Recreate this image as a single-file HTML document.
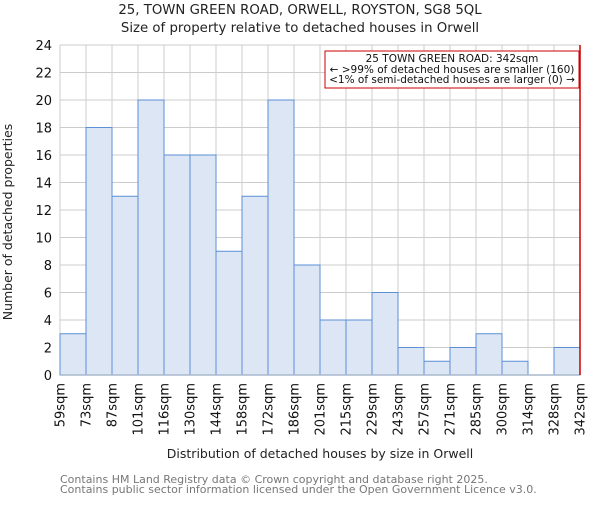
<!DOCTYPE html>
<html><head><meta charset="utf-8"><style>
body{margin:0;background:#fff;}
svg text{font-family:"DejaVu Sans","Liberation Sans",sans-serif;}
</style></head><body>
<svg width="600" height="500" viewBox="0 0 600 500" xmlns="http://www.w3.org/2000/svg">
<text x="300" y="14" text-anchor="middle" font-size="13.3" fill="#222">25, TOWN GREEN ROAD, ORWELL, ROYSTON, SG8 5QL</text>
<text x="300" y="32" text-anchor="middle" font-size="13.3" fill="#222">Size of property relative to detached houses in Orwell</text>
<g id="grid"></g>
<g id="bars"></g>
<g id="yticks"></g>
<g id="xticks"></g>
<line x1="580" y1="45" x2="580" y2="375" stroke="#c00" stroke-width="1.5"/>
<rect x="325" y="51" width="254" height="37" fill="#fff" stroke="#c00" stroke-width="1"/>
<text x="452" y="62" text-anchor="middle" font-size="10.5" fill="#111">25 TOWN GREEN ROAD: 342sqm</text>
<text x="452" y="73" text-anchor="middle" font-size="10.5" fill="#111">← &gt;99% of detached houses are smaller (160)</text>
<text x="452" y="83" text-anchor="middle" font-size="10.5" fill="#111">&lt;1% of semi-detached houses are larger (0) →</text>
<text x="12" y="222" text-anchor="middle" font-size="12.5" fill="#222" transform="rotate(-90 12 222)">Number of detached properties</text>
<text x="320" y="458" text-anchor="middle" font-size="12.5" fill="#222">Distribution of detached houses by size in Orwell</text>
<text x="60" y="483" font-size="11" fill="#777">Contains HM Land Registry data © Crown copyright and database right 2025.</text>
<text x="60" y="493" font-size="11" fill="#777">Contains public sector information licensed under the Open Government Licence v3.0.</text>
</svg>
<script>
const categories=["59sqm","73sqm","87sqm","101sqm","116sqm","130sqm","144sqm","158sqm","172sqm","186sqm","201sqm","215sqm","229sqm","243sqm","257sqm","271sqm","285sqm","300sqm","314sqm","328sqm","342sqm"];
const counts=[3,18,13,20,16,16,9,13,20,8,4,4,6,2,1,2,3,1,0,2];
const yTicks=[0,2,4,6,8,10,12,14,16,18,20,22,24];
const NS="http://www.w3.org/2000/svg";
const X0=60,X1=580,Y0=375,Y1=45,YMAX=24;
const nb=counts.length;
function xs(i){return X0+(X1-X0)*i/nb;}
function ys(v){return Y0-(Y0-Y1)*v/YMAX;}
function mk(t,a,p){const e=document.createElementNS(NS,t);for(const k in a)e.setAttribute(k,a[k]);p.appendChild(e);return e;}
const grid=document.getElementById('grid'),bars=document.getElementById('bars'),yt=document.getElementById('yticks'),xt=document.getElementById('xticks');
yTicks.forEach(v=>{
 const l=mk('line',{x1:X0,x2:X1,y1:ys(v),y2:ys(v),stroke:'#ccc','stroke-width':1},grid);
 
 
 const t=mk('text',{x:X0-8,y:ys(v)+5,'text-anchor':'end','font-size':13,fill:'#111'},yt);
 t.textContent=v;
 
 
});
categories.forEach((c,i)=>{
 const x=xs(i);
 const l=mk('line',{x1:x,x2:x,y1:Y1,y2:Y0,stroke:'#ccc','stroke-width':1},grid);
 
 
 const t=mk('text',{x:0,y:0,'text-anchor':'end','font-size':13,fill:'#111',transform:`translate(${x+4.5},${Y0+8}) rotate(-90)`},xt);
 t.textContent=c;
 
 
});
counts.forEach((v,i)=>{
 if(v<=0)return;
 const r=mk('rect',{x:xs(i),y:ys(v),width:xs(i+1)-xs(i),height:Y0-ys(v),fill:'#dce6f4',stroke:'#5b8fd6','stroke-width':1},bars);
 
 
});
const ax=mk('line',{x1:X0,x2:X1,y1:Y0,y2:Y0,stroke:'#aab8cc','stroke-width':1.5},bars);


</script>
</body></html>
